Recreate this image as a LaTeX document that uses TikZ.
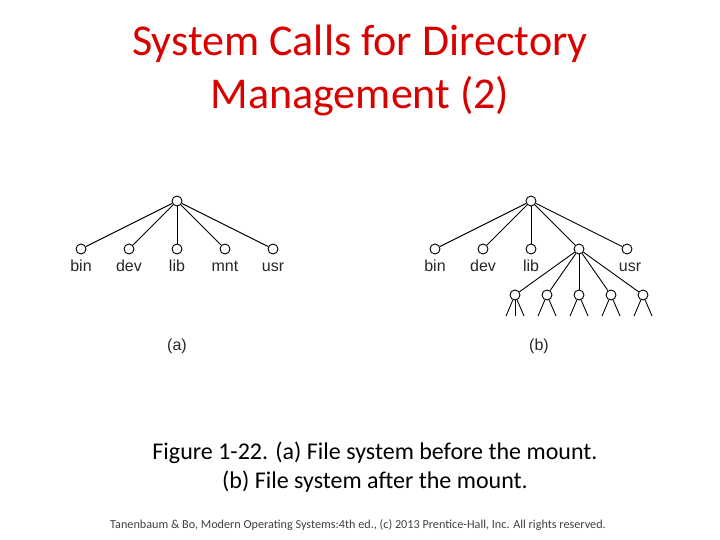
\documentclass[tikz,border=0pt]{standalone}
\usepackage{fontspec}
\setmainfont{Carlito}
\newfontfamily\arial{Liberation Sans}
\begin{document}
\begin{tikzpicture}[x=1pt,y=-1pt]
\tikzstyle{dir}=[circle,draw,inner sep=0pt,minimum size=10pt,line width=0.9pt,fill=white]
\tikzstyle{lbl}=[font=\arial\fontsize{16}{18}\selectfont,text=black!85,anchor=base]
\useasboundingbox (0,0) rectangle (720,540);
\node[text=red!85!black,align=center,font=\fontsize{44}{53}\selectfont] (title) at (360,71) {System Calls for Directory\\Management (2)};

% (a) before the mount
\node[dir] (ra) at (177,201) {};
\foreach \n/\x in {bin/81,dev/129,lib/177,mnt/225,usr/273}{
  \node[dir] (a\n) at (\x,249) {};
  \node[lbl] at (\x,271) {\n};
  \draw[line width=0.9pt] (ra) -- (a\n);
}
\node[lbl] (capa) at (177,350) {(a)};

% (b) after the mount
\node[dir] (rb) at (531,201) {};
\foreach \n/\x in {bin/435,dev/483,lib/531,m/579,usr/627}{
  \node[dir] (b\n) at (\x,249) {};
  \draw[line width=0.9pt] (rb) -- (b\n);
}
\foreach \n/\x in {bin/435,dev/483,lib/531,usr/630}
  \node[lbl] at (\x,271) {\n};
\foreach \i/\x in {1/515,2/547,3/579,4/611,5/643}{
  \node[dir] (s\i) at (\x,295) {};
  \draw[line width=0.9pt] (bm) -- (s\i);
  \coordinate (l\i) at (\x-9,316);
  \coordinate (c\i) at (\x,316);
  \coordinate (r\i) at (\x+9,316);
  \draw[line width=0.9pt] (s\i) -- (l\i) (s\i) -- (r\i);
}
\draw[line width=0.9pt] (s1) -- (c1);
\node[lbl] (capb) at (539,350) {(b)};

\node[align=center,font=\fontsize{24}{29}\selectfont] (cap) at (375,467) {Figure 1-22. (a) File system before the mount.\\(b) File system after the mount.};
\node[font=\fontsize{12.2}{14}\selectfont,text=black!75] (foot) at (358,525) {Tanenbaum \& Bo, Modern Operating Systems:4th ed., (c) 2013 Prentice-Hall, Inc. All rights reserved.};
\end{tikzpicture}
\end{document}
